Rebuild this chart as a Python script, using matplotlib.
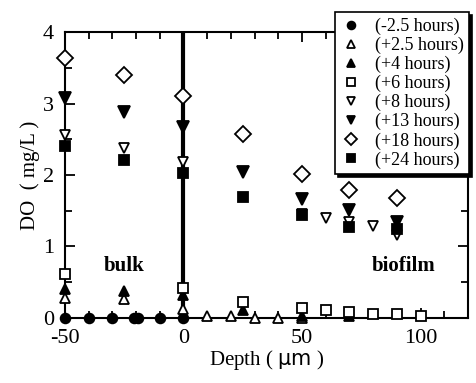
import matplotlib
matplotlib.use("Agg")
import matplotlib.pyplot as plt
from matplotlib.ticker import MultipleLocator

plt.rcParams['font.family'] = ['Liberation Serif', 'DejaVu Serif']
plt.rcParams['axes.unicode_minus'] = False

# Data
labels = ["(-2.5 hours)", "(+2.5 hours)", "(+4 hours)", "(+6 hours)",
          "(+8 hours)", "(+13 hours)", "(+18 hours)", "(+24 hours)"]

x_m2_5 = [-50, -40, -30, -21, -19, -10, 0]
y_m2_5 = [0.0, 0.0, 0.0, 0.0, 0.0, 0.0, 0.0]

x_p2_5 = [-50, -25, 0, 10, 20, 30, 40, 50]
y_p2_5 = [0.28, 0.27, 0.13, 0.02, 0.02, 0.0, 0.0, 0.0]

x_p4 = [-50, -25, 0, 25, 50, 70]
y_p4 = [0.40, 0.37, 0.32, 0.11, 0.03, 0.02]

x_p6 = [-50, 0, 25, 50, 60, 70, 80, 90, 100]
y_p6 = [0.62, 0.42, 0.22, 0.14, 0.11, 0.08, 0.06, 0.05, 0.02]

x_p8 = [-50, -25, 0, 50, 60, 70, 80, 90]
y_p8 = [2.56, 2.38, 2.18, 1.45, 1.40, 1.34, 1.29, 1.16]

x_p13 = [-50, -25, 0, 25, 50, 70, 90]
y_p13 = [3.08, 2.88, 2.67, 2.04, 1.66, 1.51, 1.34]

x_p18 = [-50, -25, 0, 25, 50, 70, 90]
y_p18 = [3.64, 3.40, 3.10, 2.57, 2.01, 1.79, 1.68]

x_p24 = [-50, -25, 0, 25, 50, 70, 90]
y_p24 = [2.40, 2.21, 2.03, 1.69, 1.44, 1.27, 1.24]

fig = plt.figure(figsize=(4.77, 3.83), dpi=100)
ax = fig.add_axes([0.136, 0.170, 0.845, 0.746])

ax.axvline(0, color='black', lw=3.0, zorder=1)

kw = dict(linestyle='none', color='black', markeredgewidth=1.3, zorder=3, clip_on=False)
series = [
    (x_m2_5, y_m2_5, dict(marker='o', ms=7, mfc='black')),
    (x_p2_5, y_p2_5, dict(marker='^', ms=7, mfc='white')),
    (x_p4, y_p4, dict(marker='^', ms=7, mfc='black')),
    (x_p6, y_p6, dict(marker='s', ms=7, mfc='white')),
    (x_p8, y_p8, dict(marker='v', ms=7, mfc='white')),
    (x_p13, y_p13, dict(marker='v', ms=8, mfc='black')),
    (x_p18, y_p18, dict(marker='D', ms=8, mfc='white')),
    (x_p24, y_p24, dict(marker='s', ms=7, mfc='black')),
]
handles = []
for (xs, ys, st), lab in zip(series, labels):
    h, = ax.plot(xs, ys, label=lab, **kw, **st)
    handles.append(h)

ax.set_xlim(-50, 120)
ax.set_ylim(0, 4)
ax.xaxis.set_major_locator(MultipleLocator(50))
ax.xaxis.set_minor_locator(MultipleLocator(10))
ax.yaxis.set_major_locator(MultipleLocator(1))
ax.yaxis.set_minor_locator(MultipleLocator(0.5))
ax.tick_params(which='both', direction='in', top=True, right=True,
               width=1.3, labelsize=16)
ax.tick_params(axis='x', which='major', pad=8)
ax.tick_params(axis='y', which='major', pad=8)
ax.tick_params(which='major', length=7)
ax.tick_params(which='minor', length=5)
for s in ax.spines.values():
    s.set_linewidth(1.5)

ax.set_xlabel("Depth ( $\\mathsf{\\mu m}$ )", fontsize=15, labelpad=0)
ax.set_ylabel("DO  ( mg/L )", fontsize=15, labelpad=2)

ax.text(-25, 0.72, "bulk", fontsize=15, fontweight='bold', ha='center', va='center')
ax.text(93, 0.72, "biofilm", fontsize=15, fontweight='bold', ha='center', va='center')

leg = ax.legend(handles=handles, loc='upper right', bbox_to_anchor=(1.003, 1.07),
                borderaxespad=0, fontsize=13, markerscale=0.8, handlelength=1.2,
                handletextpad=0.7, labelspacing=0.1, borderpad=0.3,
                fancybox=False, framealpha=1, edgecolor='black',
                shadow={'color': 'black', 'alpha': 1, 'ox': 2, 'oy': -2})
leg.get_frame().set_linewidth(1.2)
leg.set_zorder(5)

fig.savefig("out.png", dpi=100)
